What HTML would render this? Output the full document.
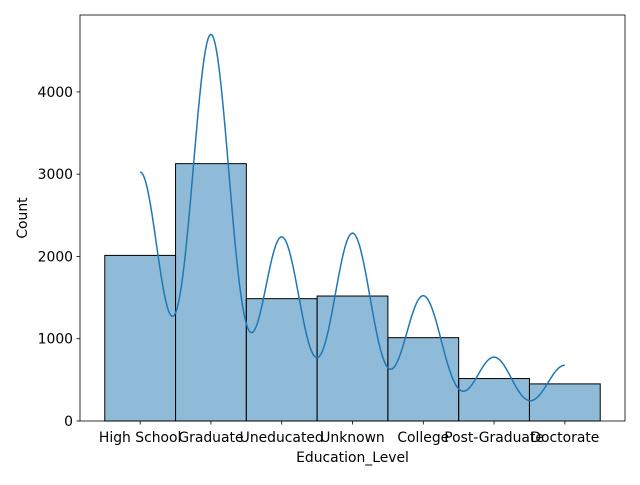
<!DOCTYPE html>
<html><head><meta charset="utf-8"><style>
body{margin:0;background:#fff;}
svg text{font-family:"DejaVu Sans","Liberation Sans",sans-serif;font-size:13.9px;fill:#000;}
</style></head><body>
<svg id="chart" width="640" height="480" xmlns="http://www.w3.org/2000/svg"></svg>
<script>
const categories = ["High School","Graduate","Uneducated","Unknown","College","Post-Graduate","Doctorate"];
const counts = [2013,3128,1487,1519,1013,516,451];
const yTicks = [0,1000,2000,3000,4000];

const NS="http://www.w3.org/2000/svg";
const svg=document.getElementById('chart');
const L=80,R=625,T=15,B=421;
const xMin=-0.85,xMax=6.85,yMin=0,yMax=4935;
const xs=v=>L+(v-xMin)/(xMax-xMin)*(R-L);
const ys=v=>B-(v-yMin)/(yMax-yMin)*(B-T);
function el(tag,attrs){const e=document.createElementNS(NS,tag);for(const k in attrs)e.setAttribute(k,attrs[k]);svg.appendChild(e);return e;}

counts.forEach((c,i)=>{
  const r=el('rect',{x:xs(i-0.5),y:ys(c),width:xs(i+0.5)-xs(i-0.5),height:ys(0)-ys(c),fill:'rgba(31,119,180,0.5)',stroke:'#000','stroke-width':1});
  
  
});

const n=counts.reduce((a,b)=>a+b,0);
let mean=0;counts.forEach((c,i)=>mean+=c*i);mean/=n;
let vr=0;counts.forEach((c,i)=>vr+=c*(i-mean)*(i-mean));vr/=(n-1);
const bw=Math.sqrt(vr)*Math.pow(n,-0.2);
let d='';
for(let k=0;k<=300;k++){
  const x=k/300*(categories.length-1);
  let s=0;counts.forEach((c,i)=>{s+=c*Math.exp(-0.5*((x-i)/bw)**2);});
  s/= (Math.sqrt(2*Math.PI)*bw);
  d+=(k?'L':'M')+xs(x).toFixed(2)+','+ys(s).toFixed(2);
}
const kde=el('path',{d:d,fill:'none',stroke:'#1f77b4','stroke-width':1.5});



const frame=el('rect',{x:L,y:T,width:R-L,height:B-T,fill:'none',stroke:'#000','stroke-width':0.8});



yTicks.forEach(v=>{
  const y=ys(v);
  el('line',{x1:L-3.5,x2:L,y1:y,y2:y,stroke:'#000','stroke-width':0.8});
  const t=el('text',{x:L-7,y:y+5,'text-anchor':'end'});t.textContent=v;
  
  
});
categories.forEach((c,i)=>{
  const x=xs(i);
  el('line',{x1:x,x2:x,y1:B,y2:B+3.5,stroke:'#000','stroke-width':0.8});
  const t=el('text',{x:x,y:B+21,'text-anchor':'middle'});t.textContent=c;
  
  
});
const xt=el('text',{x:(L+R)/2,y:462,'text-anchor':'middle'});xt.textContent='Education_Level';


const yt=el('text',{x:27,y:(T+B)/2,'text-anchor':'middle',transform:'rotate(-90 27 '+((T+B)/2)+')'});yt.textContent='Count';


</script>
</body></html>
